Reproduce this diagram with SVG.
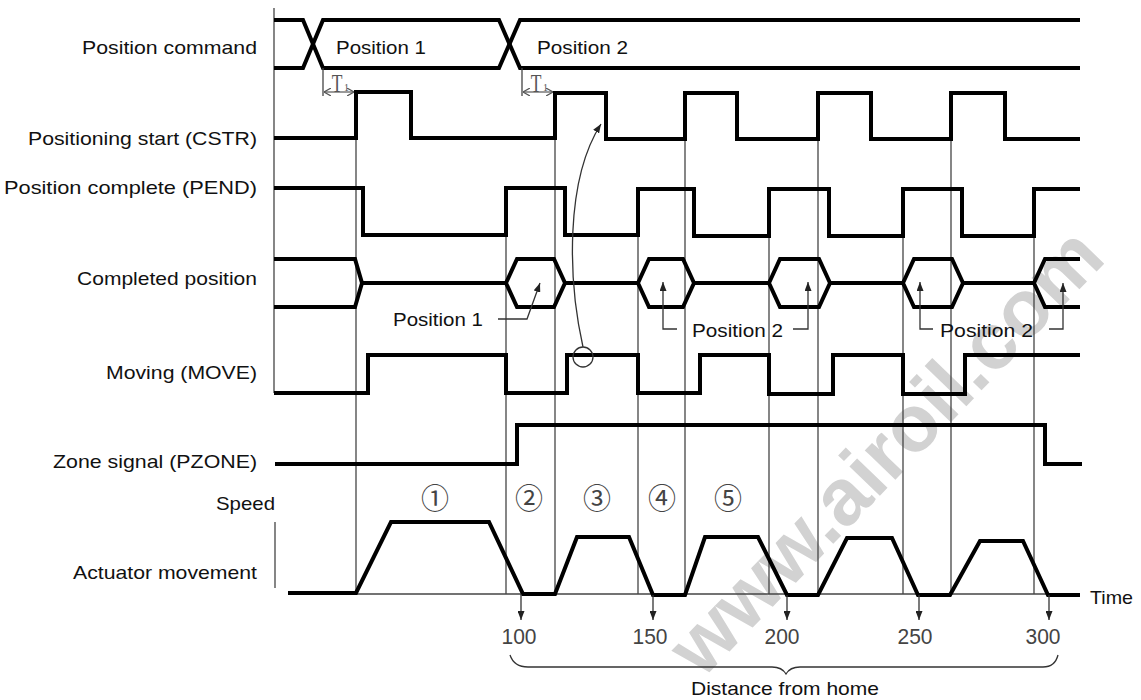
<svg xmlns="http://www.w3.org/2000/svg" width="1141" height="700" viewBox="0 0 1141 700">
<defs>
<style>
.lbl{font-family:"Liberation Sans",Arial,sans-serif;font-size:19px;fill:#111}
.num{font-family:"Liberation Sans",Arial,sans-serif;font-size:22px;fill:#444}
.circ{font-family:"Noto Sans CJK JP","DejaVu Sans",sans-serif;font-size:28px;fill:#444;text-anchor:middle}
.sig{fill:none;stroke:#000;stroke-width:4;stroke-linejoin:miter}
.thin{fill:none;stroke:#444;stroke-width:1.3}
.ann{fill:none;stroke:#333;stroke-width:1.3}
.wm{font-family:"Liberation Sans",Arial,sans-serif;font-weight:bold;font-size:80px;fill:#d2d2d2}
</style>
<marker id="ah" markerWidth="9" markerHeight="7" refX="9" refY="3.5" orient="auto" markerUnits="userSpaceOnUse">
<path d="M0,0 L9,3.5 L0,7 z" fill="#222"/>
</marker>
<marker id="chev" markerWidth="7" markerHeight="8" refX="7" refY="4" orient="auto-start-reverse" markerUnits="userSpaceOnUse">
<path d="M0,0 L7,4 L0,8" fill="none" stroke="#555" stroke-width="1.2"/>
</marker>
</defs>
<rect width="1141" height="700" fill="#fff"/>

<text class="wm" transform="translate(702,680) rotate(-46)">www.airoil.com</text>

<g id="grid">
<line class="thin" x1="274" y1="8" x2="274" y2="393"/>
<line class="thin" x1="275" y1="522" x2="275" y2="588"/>
<line class="thin" x1="356" y1="92" x2="356" y2="594"/>
<line class="thin" x1="506" y1="188" x2="506" y2="594"/>
<line class="thin" x1="555" y1="92" x2="555" y2="594"/>
<line class="thin" x1="638" y1="188" x2="638" y2="594"/>
<line class="thin" x1="685" y1="92" x2="685" y2="594"/>
<line class="thin" x1="769" y1="188" x2="769" y2="594"/>
<line class="thin" x1="818" y1="92" x2="818" y2="594"/>
<line class="thin" x1="903" y1="188" x2="903" y2="594"/>
<line class="thin" x1="951" y1="92" x2="951" y2="594"/>
<line class="thin" x1="1034" y1="188" x2="1034" y2="594"/>
<line class="thin" x1="288" y1="594" x2="1080" y2="594"/>
</g>

<g id="position-command">
<text class="lbl" x="257" y="54" text-anchor="end" textLength="175" lengthAdjust="spacingAndGlyphs">Position command</text>
<path class="sig" d="M274,20 H303 L323,68 H499 L520,20 H1080"/>
<path class="sig" d="M274,68 H303 L323,20 H499 L520,68 H1080"/>
<text class="lbl" x="336" y="54" textLength="90" lengthAdjust="spacingAndGlyphs">Position 1</text>
<text class="lbl" x="537" y="54" textLength="91" lengthAdjust="spacingAndGlyphs">Position 2</text>
</g>

<g id="t1-markers">
<line class="thin" x1="323" y1="68" x2="323" y2="96" stroke="#555"/>
<line x1="324" y1="92" x2="354" y2="92" stroke="#555" stroke-width="1.2" marker-start="url(#chev)" marker-end="url(#chev)"/>
<text transform="translate(337,92) scale(0.7,1)" text-anchor="middle" font-family="Liberation Serif,serif" font-size="25" fill="#555">T</text>
<text x="344" y="91" font-family="Liberation Serif,serif" font-size="10" fill="#555">1</text>
<line class="thin" x1="522" y1="68" x2="522" y2="96" stroke="#555"/>
<line x1="523" y1="92" x2="553" y2="92" stroke="#555" stroke-width="1.2" marker-start="url(#chev)" marker-end="url(#chev)"/>
<text transform="translate(536,92) scale(0.7,1)" text-anchor="middle" font-family="Liberation Serif,serif" font-size="25" fill="#555">T</text>
<text x="543" y="91" font-family="Liberation Serif,serif" font-size="10" fill="#555">1</text>
</g>

<g id="cstr">
<text class="lbl" x="257" y="145" text-anchor="end" textLength="229" lengthAdjust="spacingAndGlyphs">Positioning start (CSTR)</text>
<path class="sig" d="M274,138 H356 V92 H411 V138 H555 V93 H606 V139 H685 V93 H737 V139 H818 V93 H871 V139 H951 V93 H1005 V139 H1080"/>
</g>

<g id="pend">
<text class="lbl" x="257" y="194" text-anchor="end" textLength="253" lengthAdjust="spacingAndGlyphs">Position complete (PEND)</text>
<path class="sig" d="M274,188 H363 V235 H506 V188 H565 V235 H638 V189 H694 V236 H769 V189 H829 V236 H903 V189 H962 V236 H1034 V189 H1080"/>
</g>

<g id="completed-position">
<text class="lbl" x="257" y="285" text-anchor="end" textLength="180" lengthAdjust="spacingAndGlyphs">Completed position</text>
<path class="sig" d="M274,259 H355 L362,283 L355,307 H274"/>
<path class="sig" d="M362,283 H506 M565,283 H638 M694,283 H769 M830,283 H903 M963,283 H1034"/>
<path class="sig" d="M506,283 L517,259 H554 L565,283 L554,307 H517 Z"/>
<path class="sig" d="M638,283 L649,259 H683 L694,283 L683,307 H649 Z"/>
<path class="sig" d="M769,283 L780,259 H819 L830,283 L819,307 H780 Z"/>
<path class="sig" d="M903,283 L914,259 H952 L963,283 L952,307 H914 Z"/>
<path class="sig" d="M1080,259 H1045 L1034,283 L1045,307 H1080"/>
</g>

<g id="moving">
<text class="lbl" x="257" y="379" text-anchor="end" textLength="151" lengthAdjust="spacingAndGlyphs">Moving (MOVE)</text>
<path class="sig" d="M274,393 H368 V355 H506 V393 H567 V355 H638 V393 H700 V355 H769 V394 H833 V355 H903 V394 H965 V355 H1080"/>
</g>

<g id="zone-signal">
<text class="lbl" x="257" y="468" text-anchor="end" textLength="204" lengthAdjust="spacingAndGlyphs">Zone signal (PZONE)</text>
<path class="sig" d="M275,464 H517 V425 H1045 V464 H1082"/>
</g>

<g id="actuator-movement">
<text class="lbl" x="275" y="510" text-anchor="end" textLength="59" lengthAdjust="spacingAndGlyphs">Speed</text>
<text class="lbl" x="257" y="579" text-anchor="end" textLength="184" lengthAdjust="spacingAndGlyphs">Actuator movement</text>
<path class="sig" d="M288,593 H356 L391,522 H489 L523,594 H555 L577,537 H629 L653,595 H685 L705,537 H758 L787,595 H818 L847,538 H892 L918,595 H950 L980,541 H1023 L1048,595 H1080"/>
<text class="lbl" x="1090" y="604" textLength="43" lengthAdjust="spacingAndGlyphs">Time</text>
<text class="circ" x="435" y="509">①</text>
<text class="circ" x="529" y="509">②</text>
<text class="circ" x="597" y="509">③</text>
<text class="circ" x="662" y="509">④</text>
<text class="circ" x="728" y="509">⑤</text>
</g>

<g id="distance-axis">
<text class="num" x="519" y="644" text-anchor="middle" textLength="35" lengthAdjust="spacingAndGlyphs">100</text>
<text class="num" x="650" y="644" text-anchor="middle" textLength="35" lengthAdjust="spacingAndGlyphs">150</text>
<text class="num" x="782" y="644" text-anchor="middle" textLength="35" lengthAdjust="spacingAndGlyphs">200</text>
<text class="num" x="915" y="644" text-anchor="middle" textLength="35" lengthAdjust="spacingAndGlyphs">250</text>
<text class="num" x="1043" y="644" text-anchor="middle" textLength="35" lengthAdjust="spacingAndGlyphs">300</text>
<path class="ann" d="M510,655 Q514,667 528,667 H772 Q782,667 786,674 Q790,667 800,667 H1043 Q1055,667 1058,655"/>
<text class="lbl" x="785" y="695" text-anchor="middle" textLength="188" lengthAdjust="spacingAndGlyphs">Distance from home</text>
</g>

<g id="annotations">
<text class="lbl" x="393" y="326" textLength="90" lengthAdjust="spacingAndGlyphs">Position 1</text>
<text class="lbl" x="692" y="337" textLength="91" lengthAdjust="spacingAndGlyphs">Position 2</text>
<text class="lbl" x="940" y="337" textLength="93" lengthAdjust="spacingAndGlyphs">Position 2</text>
</g>

<g id="connectors">
<path class="ann" d="M498,319 H527 L540,283" marker-end="url(#ah)"/>
<path class="ann" d="M677,329 H663 V282" marker-end="url(#ah)"/>
<path class="ann" d="M793,329 H808 V282" marker-end="url(#ah)"/>
<path class="ann" d="M933,329 H920 V282" marker-end="url(#ah)"/>
<path class="ann" d="M1049,329 H1063 V283" marker-end="url(#ah)"/>
<circle class="ann" cx="583" cy="357" r="10"/>
<path class="ann" d="M583,347 C568,280 565,180 601,124" marker-end="url(#ah)"/>
<line class="ann" x1="521" y1="594" x2="521" y2="620" marker-end="url(#ah)"/>
<line class="ann" x1="653" y1="595" x2="653" y2="620" marker-end="url(#ah)"/>
<line class="ann" x1="787" y1="595" x2="787" y2="620" marker-end="url(#ah)"/>
<line class="ann" x1="919" y1="595" x2="919" y2="620" marker-end="url(#ah)"/>
<line class="ann" x1="1049" y1="595" x2="1049" y2="620" marker-end="url(#ah)"/>
</g>
</svg>
